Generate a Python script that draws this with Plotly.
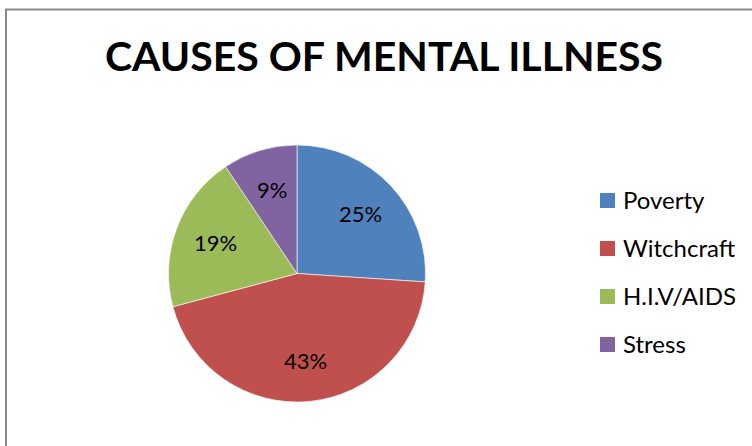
import math
import plotly.graph_objects as go

# Survey data: causes of mental illness
causes = ["Poverty", "Witchcraft", "H.I.V/AIDS", "Stress"]
shares = [25, 43, 19, 9]
colors = ["#4F81BD", "#C0504D", "#9BBB59", "#8064A2"]

W, H = 752, 446
FONT = "Lato, Carlito, Calibri, sans-serif"

# pie geometry in pixels
cx, cy, R = 297, 273.5, 128.5


def px_x(x):
    return x / W


def px_y(y):
    return 1 - y / H


fig = go.Figure()
fig.add_trace(go.Pie(
    labels=causes,
    values=shares,
    marker=dict(colors=colors, line=dict(color="white", width=0.6)),
    sort=False,
    direction="clockwise",
    rotation=0,
    textinfo="none",
    hoverinfo="label+value",
    showlegend=False,
    domain=dict(x=[px_x(cx - R), px_x(cx + R)], y=[px_y(cy + R), px_y(cy - R)]),
))

annotations = []
shapes = []

# value labels placed along each slice's bisector
total = sum(shares)
cum = 0
for v in shares:
    mid = (cum + v / 2) / total * 2 * math.pi
    cum += v
    r = 0.68 * R
    lx = cx + r * math.sin(mid)
    ly = cy - r * math.cos(mid)
    annotations.append(dict(
        x=px_x(lx), y=px_y(ly), xref="paper", yref="paper",
        text=f"{v}%", showarrow=False,
        font=dict(family=FONT, size=22, color="#000000"),
        xanchor="center", yanchor="middle",
    ))

# legend: colour squares with labels
for i, (name, col) in enumerate(zip(causes, colors)):
    yc = 200.5 + i * 48
    shapes.append(dict(
        type="rect", xref="paper", yref="paper",
        x0=px_x(600), x1=px_x(615), y0=px_y(yc + 7.5), y1=px_y(yc - 7.5),
        fillcolor=col, line=dict(width=0),
    ))
    annotations.append(dict(
        x=px_x(621), y=px_y(yc - 1), xref="paper", yref="paper",
        text=name, showarrow=False,
        font=dict(family=FONT, size=24, color="#000000"),
        xanchor="left", yanchor="middle",
    ))

# chart area border
shapes.append(dict(
    type="rect", xref="paper", yref="paper",
    x0=px_x(6), x1=1.05, y0=-0.05, y1=px_y(9.5),
    fillcolor="rgba(0,0,0,0)", line=dict(color="#898989", width=2),
))

fig.update_layout(
    width=W, height=H,
    margin=dict(l=0, r=0, t=0, b=0),
    paper_bgcolor="white",
    plot_bgcolor="white",
    title=dict(
        text="<b>CAUSES OF MENTAL ILLNESS</b>",
        x=384 / W, xanchor="center",
        y=1 - 57 / H, yanchor="middle", yref="container",
        font=dict(family=FONT, size=41, color="#000000"),
    ),
    annotations=annotations,
    shapes=shapes,
)

fig.write_html("out.html")
